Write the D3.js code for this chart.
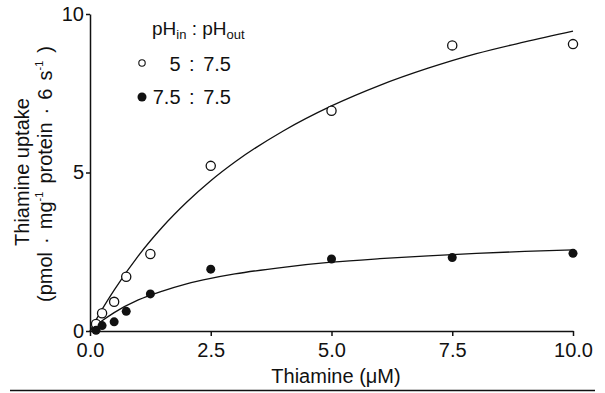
<!DOCTYPE html>
<html><head><meta charset="utf-8">
<script src="https://cdn.jsdelivr.net/npm/d3@7"></script>
<style>body{margin:0;background:#fff}text{font-family:"Liberation Sans",Arial,sans-serif;fill:#111}</style>
</head><body><svg id="c" width="605" height="393"></svg>
<script>
// measured points
const openX = [0.125, 0.25, 0.5, 0.75, 1.25, 2.5, 5.0, 7.5, 10.0];
const openY = [0.22, 0.56, 0.92, 1.71, 2.43, 5.21, 6.95, 9.01, 9.05];
const filledX = [0.125, 0.25, 0.5, 0.75, 1.25, 2.5, 5.0, 7.5, 10.0];
const filledY = [0.02, 0.17, 0.29, 0.62, 1.17, 1.95, 2.27, 2.32, 2.45];
// fitted curves
const curveX = [0, 0.25, 0.5, 1, 1.5, 2, 2.5, 3, 4, 5, 6, 7, 8, 9, 10];
const openCurveY = [0, 0.68, 1.29, 2.37, 3.28, 4.06, 4.74, 5.33, 6.31, 7.10, 7.75, 8.29, 8.75, 9.12, 9.46];
const filledCurveY = [0, 0.32, 0.58, 0.98, 1.26, 1.49, 1.66, 1.80, 2.01, 2.17, 2.28, 2.37, 2.45, 2.51, 2.56];
const xTicks = [0, 2.5, 5, 7.5, 10];
const yTicks = [0, 5, 10];
const legendLabels = ["5 : 7.5", "7.5 : 7.5"];

const svg = d3.select("#c");
const x = d3.scaleLinear().domain([0, 10]).range([90, 573]);
const y = d3.scaleLinear().domain([0, 10]).range([331, 14]);

const xa = svg.append("g").attr("transform", "translate(0,331)")
  .call(d3.axisBottom(x).tickValues(xTicks).tickFormat(d3.format(".1f")).tickSize(5).tickSizeOuter(0).tickPadding(7));
const ya = svg.append("g").attr("transform", "translate(90,0)")
  .call(d3.axisLeft(y).tickValues(yTicks).tickFormat(d3.format("d")).tickSize(4).tickSizeOuter(0).tickPadding(2));
[xa, ya].forEach(a => {
  a.selectAll("path,line").attr("stroke", "#111").attr("stroke-width", 1.5);
  a.selectAll("text").attr("font-size", 20).attr("font-family", "Liberation Sans, Arial, sans-serif").attr("fill", "#111");
});
ya.selectAll("text").attr("dy", "0.3em");

const line = d3.line().x(d => x(d[0])).y(d => y(d[1])).curve(d3.curveMonotoneX);
svg.append("path").attr("d", line(curveX.map((v, i) => [v, openCurveY[i]])))
  .attr("fill", "none").attr("stroke", "#111").attr("stroke-width", 1.3);
svg.append("path").attr("d", line(curveX.map((v, i) => [v, filledCurveY[i]])))
  .attr("fill", "none").attr("stroke", "#111").attr("stroke-width", 1.3);

svg.selectAll(".o").data(openX.map((v, i) => [v, openY[i]])).enter().append("circle")
  .attr("cx", d => x(d[0])).attr("cy", d => y(d[1])).attr("r", 4.6)
  .attr("fill", "#fff").attr("stroke", "#111").attr("stroke-width", 1.3);
svg.selectAll(".f").data(filledX.map((v, i) => [v, filledY[i]])).enter().append("circle")
  .attr("cx", d => x(d[0])).attr("cy", d => y(d[1])).attr("r", 4.5)
  .attr("fill", "#111");

// x title
svg.append("text").attr("x", 336).attr("y", 383).attr("text-anchor", "middle").attr("font-size", 20)
  .text("Thiamine (\u03BCM)");
// y title
svg.append("text").attr("transform", "translate(29,172) rotate(-90)").attr("text-anchor", "middle")
  .attr("font-size", 20).text("Thiamine uptake");
const yt2 = svg.append("text").attr("transform", "translate(52,174) rotate(-90)").attr("text-anchor", "middle")
  .attr("font-size", 20).attr("word-spacing", 2.5);
yt2.append("tspan").text("(pmol \u00B7 mg");
yt2.append("tspan").attr("font-size", 11).attr("dy", -9).text("-1");
yt2.append("tspan").attr("dy", 9).text(" protein \u00B7 6 s");
yt2.append("tspan").attr("font-size", 11).attr("dy", -9).text("-1");
yt2.append("tspan").attr("dy", 9).text(" )");

// legend
const lt = svg.append("text").attr("x", 152).attr("y", 35).attr("font-size", 19);
lt.append("tspan").text("pH");
lt.append("tspan").attr("font-size", 13).attr("dy", 4).text("in");
lt.append("tspan").attr("dy", -4).text(" : pH");
lt.append("tspan").attr("font-size", 13).attr("dy", 4).text("out");
svg.append("circle").attr("cx", 142).attr("cy", 63).attr("r", 3.2).attr("fill", "#fff").attr("stroke", "#111").attr("stroke-width", 1.1);
svg.append("circle").attr("cx", 142).attr("cy", 97).attr("r", 4.5).attr("fill", "#111");
svg.append("text").attr("x", 231).attr("y", 71).attr("text-anchor", "end").attr("font-size", 20).attr("word-spacing", 3).text(legendLabels[0]);
svg.append("text").attr("x", 231).attr("y", 104).attr("text-anchor", "end").attr("font-size", 20).attr("word-spacing", 3).text(legendLabels[1]);

// bottom rule
svg.append("line").attr("x1", 10).attr("x2", 595).attr("y1", 390.5).attr("y2", 390.5).attr("stroke", "#111").attr("stroke-width", 1.5);
</script></body></html>
